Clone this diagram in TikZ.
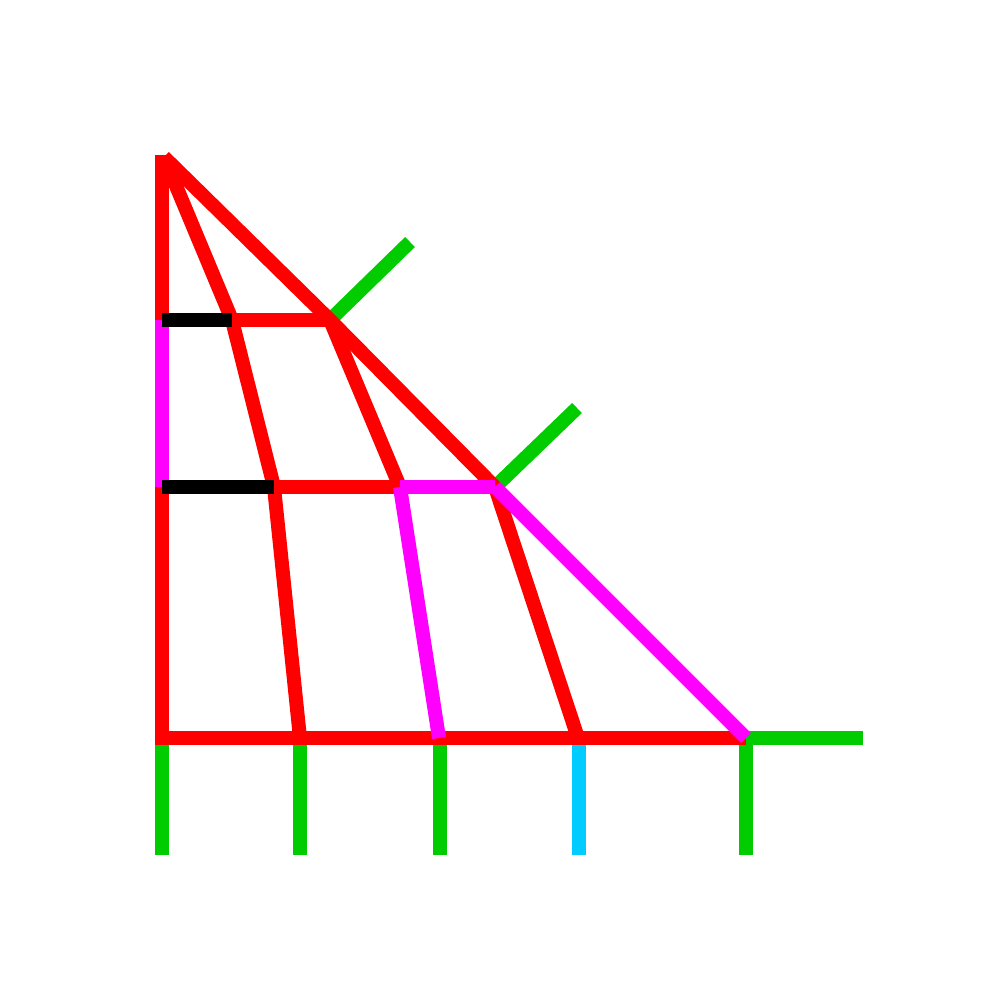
\documentclass[tikz,border=0pt]{standalone}
\definecolor{lred}{HTML}{FF0000}
\definecolor{lgreen}{HTML}{00CC00}
\definecolor{lmag}{HTML}{FF00FF}
\definecolor{lcyan}{HTML}{00CCFF}
\begin{document}
\begin{tikzpicture}[x=0.1mm,y=-0.1mm,
  seg/.style={line width=1.4mm,line cap=butt,line join=miter},
  redseg/.style={seg,draw=lred},
  greenseg/.style={seg,draw=lgreen},
  magseg/.style={seg,draw=lmag},
  cyanseg/.style={seg,draw=lcyan},
  blackseg/.style={seg,draw=black}]
\useasboundingbox (0,0) rectangle (1000,1000);
% points
\coordinate (A) at (164,157);
\coordinate (L0) at (162,155);
\coordinate (L1) at (162,320);
\coordinate (L2) at (162,487);
\coordinate (L3) at (162,738);
\coordinate (P1) at (232,320);
\coordinate (Q1) at (330,320);
\coordinate (P2) at (274,487);
\coordinate (M2) at (400,487);
\coordinate (Q2) at (495,487);
\coordinate (B1) at (300,738);
\coordinate (B2) at (439,738);
\coordinate (B3) at (578,738);
\coordinate (B4) at (746,738);
\coordinate (E) at (863,738);
\coordinate (T1) at (410,242);
\coordinate (T2) at (577,408);
\coordinate (D0) at (162,855);
\coordinate (D1) at (300,855);
\coordinate (D2) at (440,855);
\coordinate (D3) at (579,855);
\coordinate (D4) at (746,855);
% green and cyan below
\draw[greenseg] (L3) -- (D0);
\draw[greenseg] (B1) -- (D1);
\draw[greenseg] (B2 -| D2) -- (D2);
\draw[cyanseg] (B3 -| D3) -- (D3);
\draw[greenseg] (B4) -- (D4);
\draw[greenseg] (B4) -- (E);
% ticks
\draw[greenseg] (Q1) -- (T1);
\draw[greenseg] (Q2) -- (T2);
% red structure
\draw[redseg] (L0) -- (L1);
\draw[redseg] (L2) -- (L3) -- (B4);
\draw[redseg] (A) -- (Q1) -- (Q2);
\draw[redseg] (A) -- (P1) -- (P2) -- (B1);
\draw[redseg] (P1) -- (Q1);
\draw[redseg] (P2) -- (M2);
\draw[redseg] (Q1) -- (M2);
\draw[redseg] (Q2) -- (B3);
% magenta
\draw[magseg] (L1) -- (L2);
\draw[magseg] (M2) -- (Q2);
\draw[magseg] (M2) -- (B2);
\draw[magseg] (Q2) -- (B4);
% black
\draw[blackseg] (L1) -- (P1);
\draw[blackseg] (L2) -- (P2);
\end{tikzpicture}
\end{document}
